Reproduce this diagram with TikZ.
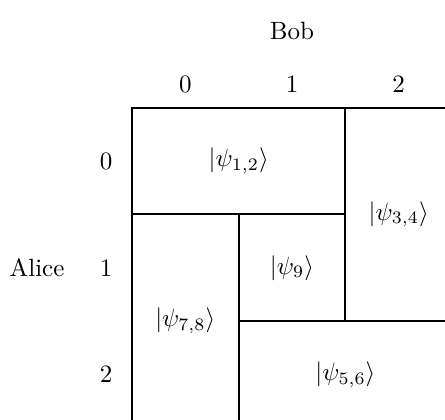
\documentclass[tikz,border=0pt]{standalone}
\begin{document}
\begin{tikzpicture}[x=0.4pt,y=-0.4pt,grid/.style={line width=0.8pt},lbl/.style={inner sep=0pt}]
\useasboundingbox (0,0) rectangle (445,419);
\clip (0,0) rectangle (445,419);
% coordinates of the grid
\coordinate (tl) at (132,107.7);
\coordinate (br) at (452.1,427.8);
\coordinate (h1l) at (132,214.4);
\coordinate (h1r) at (345.4,214.4);
\coordinate (v2t) at (345.4,107.7);
\coordinate (v2b) at (345.4,321.1);
\coordinate (v1t) at (238.7,214.4);
\coordinate (v1b) at (238.7,427.8);
\coordinate (h2l) at (238.7,321.1);
\coordinate (h2r) at (452.1,321.1);
\draw[grid] (tl) rectangle (br);
\draw[grid] (h1l) -- (h1r);
\draw[grid] (v2t) -- (v2b);
\draw[grid] (v1t) -- (v1b);
\draw[grid] (h2l) -- (h2r);
% labels
\node[lbl] (bob) at (292,31) {Bob};
\node[lbl] (c0) at (185.3,84) {0};
\node[lbl] (c1) at (292,84) {1};
\node[lbl] (c2) at (398.7,84) {2};
\node[lbl] (r0) at (106,161) {0};
\node[lbl] (r1) at (106,268) {1};
\node[lbl] (r2) at (106,374.5) {2};
\node[lbl] (alice) at (37,268) {Alice};
\node (p12) at (238.7,161) {$|\psi_{1,2}\rangle$};
\node (p34) at (398.7,214.4) {$|\psi_{3,4}\rangle$};
\node (p9) at (292,267.8) {$|\psi_{9}\rangle$};
\node (p78) at (185.3,321.1) {$|\psi_{7,8}\rangle$};
\node (p56) at (345.4,374.5) {$|\psi_{5,6}\rangle$};
\end{tikzpicture}
\end{document}
